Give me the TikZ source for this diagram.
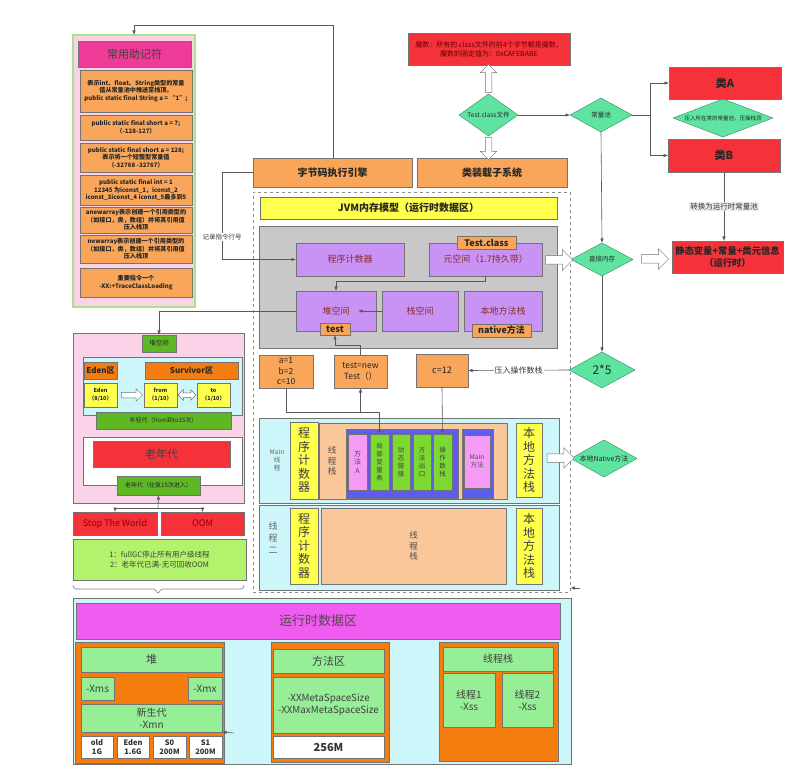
\documentclass[tikz,border=0pt]{standalone}
\usepackage{fontspec}
\setmainfont{Noto Sans CJK SC}
\usetikzlibrary{shapes.geometric,shapes.arrows,arrows.meta,calc}
\newcommand{\myfs}[2]{\fontsize{#1}{#2}\selectfont}
\newcommand{\mybox}[7]{\node[#6, minimum width={(#4)-(#2)}, minimum height={(#5)-(#3)}] (#1) at ({((#2)+(#4))/2},{((#3)+(#5))/2}) {#7};}
\definecolor{cOrange}{HTML}{F9A65A}
\definecolor{cRed}{HTML}{F5323A}
\definecolor{cAqua}{HTML}{5FE3A1}
\definecolor{cPurple}{HTML}{C993F5}
\definecolor{cPurpleTxt}{HTML}{8B2A2A}
\definecolor{cGrey}{HTML}{C8C8C8}
\definecolor{cYellow}{HTML}{FFFF4D}
\definecolor{cCyan}{HTML}{CCF6FA}
\definecolor{cPeach}{HTML}{F9C79A}
\definecolor{cBlue}{HTML}{5C5CEE}
\definecolor{cPinkM}{HTML}{F59BF5}
\definecolor{cGreenI}{HTML}{7BD932}
\definecolor{cPinkL}{HTML}{FBD3E9}
\definecolor{cGreenD}{HTML}{5DB824}
\definecolor{cGreenN}{HTML}{B3F26C}
\definecolor{cMagB}{HTML}{F05CF0}
\definecolor{cMagT}{HTML}{EE3B98}
\definecolor{cOrangeD}{HTML}{F57D0F}
\definecolor{cGreenB}{HTML}{96EE96}
\definecolor{cGreenLB}{HTML}{A6E38A}
\tikzset{
  bx/.style={draw=black!55, line width=0.5pt, inner sep=0pt, outer sep=0pt, align=center, text=black!85},
  obx/.style={bx, fill=cOrange, font=\myfs{6.1}{7.5}\bfseries},
  pbx/.style={bx, fill=cPurple, text=cPurpleTxt, font=\myfs{9}{11}},
  ybx/.style={bx, fill=cYellow, text=black!75, font=\myfs{12}{13.5}},
  gbx/.style={bx, fill=cGreenI, text=black!75, font=\myfs{6.5}{8}},
  dgbx/.style={bx, fill=cGreenD, text=black!85, font=\myfs{6}{7.5}},
  bgbx/.style={bx, fill=cGreenB, text=black!75, font=\myfs{10}{12}},
  wbx/.style={bx, fill=white, text=black!80, font=\myfs{7.5}{9}\bfseries},
  dia/.style={diamond, draw=cAqua!60!black, line width=0.4pt, fill=cAqua, inner sep=0pt, outer sep=0pt, align=center, font=\myfs{6.5}{8}, text=black!85},
  conn/.style={draw=black!65, line width=0.6pt},
  arr/.style={conn, -{Latex[length=4.5pt,width=3.5pt]}},
  hollow/.style={single arrow, draw=black!55, fill=white, line width=0.5pt, inner sep=3pt, single arrow head extend=5pt, outer sep=0pt},
  lbl/.style={fill=white, inner sep=1pt, font=\myfs{6.5}{8}, text=black!80},
}
\begin{document}
\begin{tikzpicture}[x=1pt,y=-1pt]
\useasboundingbox[fill=white] (0,0) rectangle (803,775);

% ---------- left mnemonic column ----------
\mybox{lbox}{73}{35}{195}{307}{bx,fill=cPinkL,draw=cGreenLB,line width=2.5pt}{}
\mybox{mnem}{78}{41}{191}{67}{bx,fill=cMagT,font=\myfs{11}{13},text=black!75}{常用助记符}
\mybox{m1}{80}{70}{192}{112}{obx}{表示int、float、String类型的常量\\值从常量池中推送至栈顶。\\public static final String a = “1”;}
\mybox{m2}{80}{115}{192}{140}{obx}{public static final short a = 7;\\（-128-127）}
\mybox{m3}{80}{143}{192}{172}{obx}{public static final short a = 128;\\表示将一个短整型常量值\\（-32768 -32767）}
\mybox{m4}{80}{175}{192}{205}{obx}{public static final int = 1\\12345 为iconst\_1，iconst\_2\\iconst\_3iconst\_4 iconst\_5最多到5}
\mybox{m5}{80}{207}{192}{233}{obx}{anewarray表示创建一个引用类型的\\（如接口，类，数组）并将其引用值\\压入栈顶}
\mybox{m6}{80}{235}{192}{263}{obx}{newarray表示创建一个引用类型的\\（如接口，类，数组）并将其引用值\\压入栈顶}
\mybox{m7}{80}{268}{192}{297}{obx}{重要指令一个\\-XX:+TraceClassLoading}

% ---------- top ----------
\mybox{engine}{253}{158}{412}{187}{bx,fill=cOrange,font=\myfs{10}{12}\bfseries}{字节码执行引擎}
\mybox{loader}{417}{158}{567}{187}{bx,fill=cOrange,font=\myfs{10}{12}\bfseries}{类装载子系统}
\mybox{magic}{408}{33}{570}{65}{bx,fill=cRed,font=\myfs{7}{9},text=black!60!red}{魔数：所有的 class文件的前4个字节都是魔数，\\魔数的固定值为：0xCAFEBABE}
\node[dia, minimum width=59, minimum height=42, aspect=1.4] (tdia) at (488.5,115) {Test.class文件};
\node[dia, minimum width=62, minimum height=34, aspect=1.8] (pool) at (601,115) {常量池};
\node[dia, minimum width=100, minimum height=38, aspect=2.6, font=\myfs{5.5}{7}] (diaab) at (723,118) {压入所在类的常量池，压操栈顶};
\mybox{classA}{669}{67}{781}{99}{bx,fill=cRed,font=\myfs{11}{13}\bfseries}{类A}
\mybox{classB}{668}{139}{780}{172}{bx,fill=cRed,font=\myfs{11}{13}\bfseries}{类B}
\mybox{static}{672}{241}{783}{273}{bx,fill=cRed,font=\myfs{9.3}{12.5}\bfseries}{静态变量+常量+类元信息\\（运行时）}
\node[dia, minimum width=62, minimum height=33, aspect=1.9] (direct) at (602,259.5) {直接内存};
\node[dia, minimum width=66, minimum height=36, aspect=1.8, font=\myfs{12}{14}] (d25) at (602,370) {2*5};
\node[dia, minimum width=66, minimum height=37, aspect=1.8, font=\myfs{7}{8.5}] (natd) at (604,458.5) {本地Native方法};

% ---------- JVM memory model ----------
\mybox{jvm}{253}{192}{570}{592}{draw=black!45, dashed, line width=0.6pt, inner sep=0pt}{}
\mybox{jvmt}{260}{197}{557}{219}{bx,fill=cYellow,font=\myfs{10}{12}\bfseries}{JVM内存模型（运行时数据区）}
\mybox{greyp}{259}{226}{557}{348}{bx,fill=cGrey}{}
\mybox{pc}{296}{243}{404}{276}{pbx}{程序计数器}
\mybox{meta}{429}{243}{542}{276}{pbx}{元空间（1.7持久带）}
\mybox{ttag}{457}{236}{516}{249}{bx,fill=cOrange,font=\myfs{9}{11}\bfseries}{Test.class}
\mybox{dui}{296}{291}{376}{331}{pbx}{堆空间}
\mybox{zhan}{382}{291}{458}{331}{pbx}{栈空间}
\mybox{nstack}{464}{291}{542}{331}{pbx}{本地方法栈}
\mybox{testtag}{320}{323}{350}{335}{bx,fill=cOrange,font=\myfs{9}{11}\bfseries}{test}
\mybox{nattag}{472}{324}{531}{337}{bx,fill=cOrange,font=\myfs{9}{11}\bfseries}{native方法}
\mybox{abox}{259}{355}{313}{388}{bx,fill=cOrange,font=\myfs{8.5}{10.5}}{a=1\\b=2\\c=10}
\mybox{tnew}{334}{355}{387}{388}{bx,fill=cOrange,font=\myfs{8.5}{10.5}}{test=new\\Test（）}
\mybox{c12}{416}{354}{468}{387}{bx,fill=cOrange,font=\myfs{9}{11}}{c=12}

% Main thread
\mybox{mainth}{259}{418}{559}{503}{bx,fill=cCyan}{}
\node[align=center, inner sep=0pt, font=\myfs{6.5}{8}, text=black!60] (mlabel) at (277,460) {Main\\线\\程};
\mybox{pc1}{290}{422}{318}{499}{ybx}{程\\序\\计\\数\\器}
\mybox{ts1}{319}{423}{507}{499}{bx,fill=cPeach}{}
\node[align=center, inner sep=0pt, font=\myfs{8.5}{10.5}, text=black!70] (ts1t) at (332,461) {线\\程\\栈};
\mybox{frame1}{346}{429}{458}{498}{bx,fill=cBlue}{}
\mybox{mA}{348}{434}{367}{490}{bx,fill=cPinkM,font=\myfs{7}{8.5},text=black!70}{方\\法\\A}
\mybox{local}{370}{434}{389}{490}{gbx}{局\\部\\变\\量\\表}
\mybox{dyn}{392}{434}{410}{490}{gbx}{动\\态\\链\\接}
\mybox{mexit}{413}{434}{431}{490}{gbx}{方\\法\\出\\口}
\mybox{opstack}{433}{434}{452}{490}{gbx}{操\\作\\数\\栈}
\mybox{frame2}{462}{429}{493}{498}{bx,fill=cBlue}{}
\mybox{mmain}{464}{435}{490}{488}{bx,fill=cPinkM,font=\myfs{6.5}{8},text=black!70}{Main\\方法}
\mybox{ns1}{516}{423}{542}{497}{ybx}{本\\地\\方\\法\\栈}

% Thread 2
\mybox{th2}{259}{505}{559}{590}{bx,fill=cCyan}{}
\node[align=center, inner sep=0pt, font=\myfs{9}{12}, text=black!60] (t2label) at (273,538) {线\\程\\二};
\mybox{pc2}{290}{508}{318}{584}{ybx}{程\\序\\计\\数\\器}
\mybox{ts2}{321}{508}{506}{584}{bx,fill=cPeach,font=\myfs{8.5}{10.5},text=black!70}{线\\程\\栈}
\mybox{ns2}{516}{508}{542}{584}{ybx}{本\\地\\方\\法\\栈}

% ---------- left heap ----------
\mybox{heapp}{73}{333}{244}{503}{bx,fill=cPinkL}{}
\mybox{hlabel}{142}{335}{176}{352}{dgbx,font=\myfs{6.5}{8}}{堆空间}
\mybox{cyanh}{83}{357}{242}{415}{bx,fill=cCyan}{}
\mybox{edenq}{84}{362}{117}{379}{bx,fill=cOrangeD,font=\myfs{8}{10}\bfseries}{Eden区}
\mybox{survq}{145}{362}{238}{379}{bx,fill=cOrangeD,font=\myfs{8}{10}\bfseries}{Survivor区}
\mybox{eden}{84}{383}{117}{407}{bx,fill=cYellow,font=\myfs{5.5}{7.5}\bfseries}{Eden\\（8/10）}
\mybox{from}{144}{383}{177}{407}{bx,fill=cYellow,font=\myfs{5.5}{7.5}\bfseries}{from\\（1/10）}
\mybox{to}{197}{383}{230}{407}{bx,fill=cYellow,font=\myfs{5.5}{7.5}\bfseries}{to\\（1/10）}
\mybox{young}{96}{412}{231}{429}{dgbx}{年轻代（from到to15次）}
\mybox{oldc}{83}{437}{242}{485}{bx,fill=white}{}
\mybox{oldr}{93}{441}{230}{467}{bx,fill=cRed,font=\myfs{11}{13},text=black!75}{老年代}
\mybox{oldlabel}{117}{476}{200}{495}{dgbx}{老年代（往复15次进入）}
\mybox{stw}{73}{512}{157}{535}{bx,fill=cRed,font=\myfs{9}{11},text=red!55!black}{Stop The World}
\mybox{oom}{161}{512}{244}{535}{bx,fill=cRed,font=\myfs{9}{11},text=red!55!black}{OOM}
\mybox{note}{73}{539}{246}{580}{bx,fill=cGreenN,font=\myfs{7.5}{10},text=black!75}{1：fullGC停止所有用户级线程\\2：老年代已满-无可回收OOM}
\draw[black!50, line width=0.6pt, rounded corners=1.5pt] (73,585) -- (74,589) -- (155,589) -- (158,594) -- (161,589) -- (243,589) -- (244,585);

\node[hollow, minimum height=21, inner sep=2.5pt, single arrow head extend=3.5pt] (ha6) at (130.5,395) {};
\node[double arrow, draw=black!55, fill=white, line width=0.5pt, minimum height=18, inner sep=2pt, double arrow head extend=3pt] (ha7) at (187,395) {};

% ---------- bottom runtime area ----------
\mybox{rt}{73}{598}{571}{764}{bx,fill=cCyan}{}
\mybox{rttitle}{76}{603}{560}{639}{bx,fill=cMagB,font=\myfs{13}{15},text=black!70}{运行时数据区}
\mybox{hp}{75}{642}{224}{763}{bx,fill=cOrangeD}{}
\mybox{heapt}{81}{647}{222}{672}{bgbx,font=\myfs{11}{13}}{堆}
\mybox{xms}{81}{677}{114}{700}{bgbx}{-Xms}
\mybox{xmx}{188}{677}{222}{700}{bgbx}{-Xmx}
\mybox{xmn}{81}{704}{222}{732}{bgbx,font=\myfs{10}{12}}{新生代\\-Xmn}
\mybox{old}{81}{736}{113}{758}{wbx}{old\\1G}
\mybox{edn}{117}{736}{149}{758}{wbx}{Eden\\1.6G}
\mybox{s0}{153}{736}{186}{758}{wbx}{S0\\200M}
\mybox{s1}{189}{736}{222}{758}{wbx}{S1\\200M}
\mybox{mp}{271}{642}{389}{762}{bx,fill=cOrangeD}{}
\mybox{mt}{273}{649}{384}{673}{bgbx,font=\myfs{11}{13}}{方法区}
\mybox{mxx}{273}{677}{384}{733}{bgbx,font=\myfs{9.8}{12}}{-XXMetaSpaceSize\\-XXMaxMetaSpaceSize}
\mybox{m256}{273}{736}{384}{758}{wbx,font=\myfs{11}{13}\bfseries}{256M}
\mybox{tp}{439}{642}{558}{761}{bx,fill=cOrangeD}{}
\mybox{tt}{443}{647}{553}{671}{bgbx}{线程栈}
\mybox{t1}{443}{673}{495}{727}{bgbx}{线程1\\-Xss}
\mybox{t2}{502}{673}{553}{727}{bgbx}{线程2\\-Xss}

% ---------- hollow block arrows ----------
\node[hollow, minimum height=28, shape border rotate=90] (ha1) at (488.5,80) {};
\node[hollow, minimum height=22, shape border rotate=270] (ha2) at (488.5,147) {};
\node[hollow, minimum height=27, inner sep=4pt, single arrow head extend=6pt] (ha3) at (557,260) {};
\node[hollow, minimum height=27, inner sep=4pt, single arrow head extend=6pt] (ha4) at (653,259) {};
\node[hollow, minimum height=27, inner sep=4pt, single arrow head extend=6pt] (ha5) at (558.5,458) {};

% ---------- connectors ----------
\coordinate (topc) at (333,25);
\draw[arr] (engine.north -| topc) -- (topc) -| (lbox.north);
\draw[arr] (engine.west) -- ++(-31,0) |- (pc.west) node[lbl, pos=0.37] (reclbl) {记录指令行号};
\draw[arr] (dui.west) -| (hlabel.north);
\draw[arr] (meta.south) -- ++(0,5) -| (dui.north);
\coordinate (duiin) at (358,311);
\draw[arr] (zhan.west) -- (duiin);
\draw[arr] (tnew.north) -- ++(0,-10) -| (testtag.south);
\draw[arr] (abox.south) -- ++(0,24) -| (local.north);
\coordinate (jn) at (360.5,412);
\draw[arr] (jn) -- (tnew.south);
\draw[arr] (c12.south) -- (opstack.north);
\draw[arr] (d25.west) -- (c12.east) node[lbl, midway, font=\myfs{8}{10}] (pushlbl) {压入操作数栈};
\draw[arr] (tdia.east) -- (pool.west);
\draw[arr] (pool.south) -- (direct.north);
\draw[arr] (direct.south) -- (d25.north);
\draw[arr] (pool.east) -- ++(18,0) |- (classA.west);
\draw[arr] (pool.east) -- ++(18,0) |- (classB.west);
\draw[arr] (classB.south) -- (classB.south |- static.north) node[midway, fill=black!8, inner sep=1pt, font=\myfs{7.5}{9}, text=black!80] (convlbl) {转换为运行时常量池};
\coordinate (hj) at (158,508);
\draw[arr] (hj) -- (oldlabel.south);
\draw[arr] (hj) -| (stw.north);
\draw[arr] (hj) -| (oom.north);
\coordinate (tiny) at (234,733);
\draw[arr] (tiny) -- (xmn.south east);
\coordinate (tiny2) at (580,588);
\draw[arr] (tiny2) -- (jvm.east |- tiny2);
\end{tikzpicture}
\end{document}
